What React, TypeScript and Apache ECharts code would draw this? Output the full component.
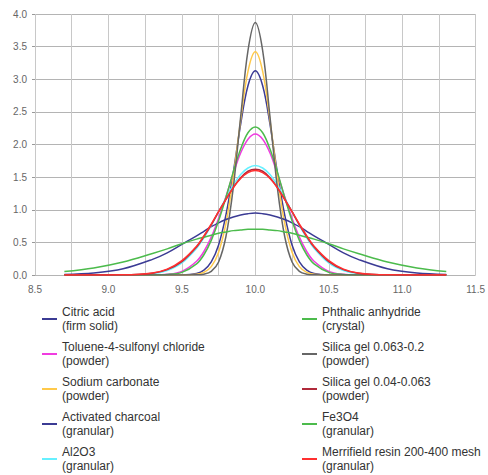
import React, { useEffect, useRef } from "react";
import * as echarts from "echarts";

const xs = [8.7, 8.9, 9.1, 9.3, 9.4, 9.5, 9.6, 9.65, 9.7, 9.75, 9.8, 9.85, 9.9, 9.95, 10.0, 10.05, 10.1, 10.15, 10.2, 10.25, 10.3, 10.35, 10.4, 10.5, 10.6, 10.7, 10.9, 11.1, 11.3];

const citricAcid = [0, 0, 0, 0, 0, 0.0015, 0.024, 0.075, 0.2, 0.46, 0.92, 1.57, 2.31, 2.9, 3.13, 2.9, 2.31, 1.57, 0.92, 0.46, 0.2, 0.075, 0.024, 0.0015, 0, 0, 0, 0, 0];
const toluene = [0, 0, 0, 0.002, 0.011, 0.056, 0.21, 0.36, 0.58, 0.87, 1.2, 1.55, 1.87, 2.08, 2.16, 2.08, 1.87, 1.55, 1.2, 0.87, 0.58, 0.36, 0.21, 0.056, 0.011, 0.002, 0, 0, 0];
const sodiumCarbonate = [0, 0, 0, 0, 0, 0, 0.01, 0.039, 0.128, 0.35, 0.79, 1.5, 2.37, 3.12, 3.42, 3.12, 2.37, 1.5, 0.79, 0.35, 0.128, 0.039, 0.01, 0, 0, 0, 0, 0, 0];
const activatedCharcoal = [0.008, 0.031, 0.096, 0.24, 0.34, 0.47, 0.6, 0.67, 0.74, 0.8, 0.85, 0.89, 0.92, 0.94, 0.95, 0.94, 0.92, 0.89, 0.85, 0.8, 0.74, 0.67, 0.6, 0.47, 0.34, 0.24, 0.096, 0.031, 0.008];
const al2o3 = [0, 0, 0.0013, 0.022, 0.07, 0.185, 0.41, 0.57, 0.76, 0.97, 1.18, 1.38, 1.54, 1.64, 1.68, 1.64, 1.54, 1.38, 1.18, 0.97, 0.76, 0.57, 0.41, 0.185, 0.07, 0.022, 0.0013, 0, 0];
const phthalicAnhydride = [0, 0, 0, 0.001, 0.007, 0.04, 0.17, 0.31, 0.53, 0.83, 1.19, 1.58, 1.93, 2.18, 2.27, 2.18, 1.93, 1.58, 1.19, 0.83, 0.53, 0.31, 0.17, 0.04, 0.007, 0.001, 0, 0, 0];
const silicaGelA = [0, 0, 0, 0, 0, 0, 0.002, 0.012, 0.056, 0.2, 0.59, 1.34, 2.42, 3.44, 3.87, 3.44, 2.42, 1.34, 0.59, 0.2, 0.056, 0.012, 0.002, 0, 0, 0, 0, 0, 0];
const silicaGelB = [0, 0, 0.002, 0.028, 0.083, 0.205, 0.43, 0.59, 0.77, 0.97, 1.16, 1.34, 1.49, 1.59, 1.62, 1.59, 1.49, 1.34, 1.16, 0.97, 0.77, 0.59, 0.43, 0.205, 0.083, 0.028, 0.002, 0, 0];
const fe3o4 = [0.052, 0.109, 0.2, 0.33, 0.4, 0.48, 0.55, 0.58, 0.61, 0.64, 0.66, 0.68, 0.69, 0.7, 0.7, 0.7, 0.69, 0.68, 0.66, 0.64, 0.61, 0.58, 0.55, 0.48, 0.4, 0.33, 0.2, 0.109, 0.052];
const merrifield = [0, 0.0001, 0.0025, 0.032, 0.09, 0.22, 0.44, 0.6, 0.78, 0.97, 1.16, 1.34, 1.48, 1.57, 1.6, 1.57, 1.48, 1.34, 1.16, 0.97, 0.78, 0.6, 0.44, 0.22, 0.09, 0.032, 0.0025, 0.0001, 0];

const seriesNames = [
  "Citric acid\n(firm solid)",
  "Toluene-4-sulfonyl chloride\n(powder)",
  "Sodium carbonate\n(powder)",
  "Activated charcoal\n(granular)",
  "Al2O3\n(granular)",
  "Phthalic anhydride\n(crystal)",
  "Silica gel 0.063-0.2\n(powder)",
  "Silica gel 0.04-0.063\n(powder)",
  "Fe3O4\n(granular)",
  "Merrifield resin 200-400 mesh\n(granular)",
];
const seriesValues = [citricAcid, toluene, sodiumCarbonate, activatedCharcoal, al2o3, phthalicAnhydride, silicaGelA, silicaGelB, fe3o4, merrifield];
const seriesColors = ["#3b3b94", "#f03ce0", "#ffc94a", "#3b3b94", "#66f0ff", "#4cbb4c", "#666666", "#b02a3a", "#4cbb4c", "#ff3030"];

export default function App() {
  const ref = useRef<HTMLDivElement>(null);
  useEffect(() => {
    document.body.style.margin = "0";
    const chart = echarts.init(ref.current!, null, { renderer: "svg" });
    const legendText = {
      fontFamily: "Liberation Sans, Arial, sans-serif",
      fontSize: 12,
      lineHeight: 14,
      color: "#333",
      padding: [14, 0, 0, 0],
    };
    const legendBase = {
      orient: "vertical",
      top: 298,
      height: 240,
      padding: 0,
      itemGap: -7.0,
      itemWidth: 15,
      itemHeight: 2,
      icon: "rect",
      textStyle: legendText,
    };
    chart.setOption({
      animation: false,
      backgroundColor: "#fff",
      grid: { left: 35, right: 6, top: 14, bottom: 200, containLabel: false },
      xAxis: {
        type: "value",
        min: 8.5,
        max: 11.5,
        interval: 0.25,
        axisLine: { show: false },
        axisTick: { show: false },
        axisLabel: {
          margin: 9,
          fontSize: 10,
          color: "#666",
          fontFamily: "Liberation Sans, Arial, sans-serif",
          formatter: (v: number) => (Math.abs(v * 2 - Math.round(v * 2)) < 1e-6 ? v.toFixed(1) : ""),
          showMaxLabel: true,
        },
        splitLine: { show: true, lineStyle: { color: "#c8c8c8", width: 1 } },
      },
      yAxis: {
        type: "value",
        min: 0,
        max: 4,
        interval: 0.5,
        axisLine: { show: false },
        axisTick: { show: true, length: 3, lineStyle: { color: "#999" } },
        axisLabel: {
          margin: 8,
          fontSize: 10,
          color: "#666",
          fontFamily: "Liberation Sans, Arial, sans-serif",
          formatter: (v: number) => v.toFixed(1),
        },
        splitLine: { show: true, lineStyle: { color: "#b4b4b4", width: 1 } },
      },
      legend: [
        { ...legendBase, left: 42, data: seriesNames.slice(0, 5) },
        { ...legendBase, left: 302, data: seriesNames.slice(5) },
      ],
      series: seriesNames.map((name, i) => ({
        name,
        type: "line",
        data: xs.map((x, j) => [x, seriesValues[i][j]]),
        showSymbol: false,
        smooth: 0.35,
        lineStyle: { width: 1.5, color: seriesColors[i] },
        itemStyle: { color: seriesColors[i] },
      })),
    });
    return () => chart.dispose();
  }, []);
  return <div ref={ref} style={{ width: 488, height: 475 }} />;
}
